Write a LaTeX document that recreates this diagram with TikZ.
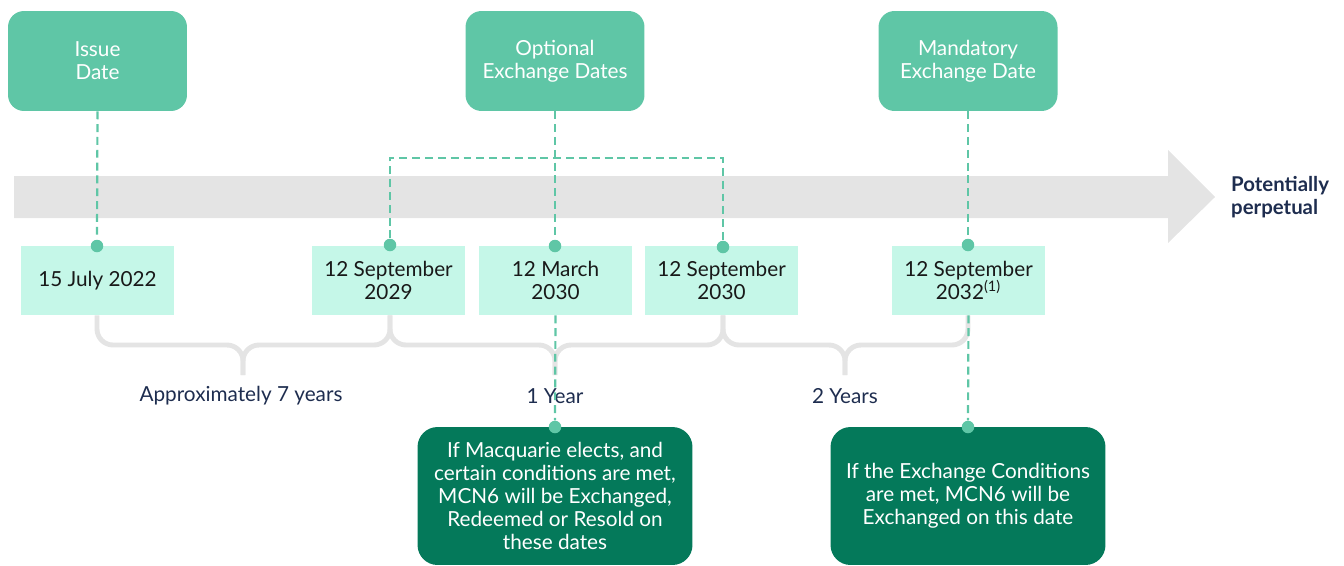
\documentclass[tikz,border=0pt]{standalone}
\usepackage{fontspec}
\setmainfont{Lato}
\usetikzlibrary{calc}
\definecolor{topgreen}{HTML}{5FC6A6}
\definecolor{datemint}{HTML}{C5F7E8}
\definecolor{darkgreen}{HTML}{04795A}
\definecolor{navy}{HTML}{1E2D4F}
\definecolor{bandgray}{HTML}{E4E4E4}
\tikzset{
	topbox/.style={fill=topgreen, text=white, rounded corners=0.32cm, minimum width=3.58cm, minimum height=2cm, align=center, inner sep=0pt},
	datebox/.style={fill=datemint, text=black!90, minimum width=3.06cm, minimum height=1.38cm, align=center, inner sep=0pt},
	notebox/.style={fill=darkgreen, text=white, rounded corners=0.4cm, minimum width=5.5cm, minimum height=2.76cm, align=center, inner sep=0pt},
	dot/.style={circle, fill=topgreen, minimum size=0.25cm, inner sep=0pt},
	dashline/.style={topgreen, line width=1.25pt, dash pattern=on 4.5pt off 2.8pt},
	bracebar/.style={bandgray, line width=2.8pt, rounded corners=0.32cm},
	spanlabel/.style={text=navy}
}
\begin{document}
\begin{tikzpicture}[x=0.02cm, y=-0.02cm, font=\fontsize{11.8}{13.1}\selectfont]
		\useasboundingbox (0,0) rectangle (1344,565);

		% DRAW THE GREY TIME ARROW
		\fill[bandgray] (14,176) -- (1168,176) -- (1168,150) -- (1215,197) -- (1168,243) -- (1168,218) -- (14,218) -- cycle;
		\node[anchor=west, align=left, text=navy, font=\fontsize{11.6}{12.8}\selectfont\bfseries] (perp) at (1225,197) {Potentially\\perpetual};

		% WRITE THE THREE HEADINGS
		\node[topbox] (issue) at (97.5,61) {Issue\\Date};
		\node[topbox] (optional) at (555,61) {Optional\\Exchange Dates};
		\node[topbox] (mandatory) at (968,61) {Mandatory\\Exchange Date};

		% PLACE THE DATES
		\node[datebox] (jul22) at (97.5,280.5) {15 July 2022};
		\node[datebox] (sep29) at (388.5,280.5) {12 September\\2029};
		\node[datebox] (mar30) at (555.5,280.5) {12 March\\2030};
		\node[datebox] (sep30) at (721.5,280.5) {12 September\\2030};
		\node[datebox] (sep32) at (968.5,280.5) {12 September\\2032\textsuperscript{(1)}};

		% PLACE DOTS
		\node[dot] (jul22dot) at (97,246) {};
		\node[dot] (sep29dot) at (390,245) {};
		\node[dot] (mar30dot) at (555,246) {};
		\node[dot] (sep30dot) at (723,247) {};
		\node[dot] (sep32dot) at (968,245) {};

		% DRAW THE BRACES UNDER THE DATES
		\coordinate (tip1) at (243,375);
		\coordinate (tip2) at (555,375);
		\coordinate (tip3) at (845,375);
		\draw[bracebar] (jul22dot |- jul22.south) |- ($(tip1)+(0,-30)$) -- (tip1);
		\draw[bracebar] (sep29dot |- sep29.south) |- ($(tip1)+(0,-30)$) -- (tip1);
		\draw[bracebar] (sep29dot |- sep29.south) |- ($(tip2)+(0,-30)$) -- (tip2);
		\draw[bracebar] (sep30dot |- sep30.south) |- ($(tip2)+(0,-30)$) -- (tip2);
		\draw[bracebar] (sep30dot |- sep30.south) |- ($(tip3)+(0,-30)$) -- (tip3);
		\draw[bracebar] (sep32dot |- sep32.south) |- ($(tip3)+(0,-30)$) -- (tip3);

		\node[spanlabel] (years7) at (241,396) {Approximately 7 years};
		\node[spanlabel] (year1) at (555,396) {1 Year};
		\node[spanlabel] (years2) at (845,396) {2 Years};

		% DRAW NOTES
		\node[notebox] (optnote) at (555,496) {If Macquarie elects, and\\certain conditions are met,\\MCN6 will be Exchanged,\\Redeemed or Resold on\\these dates};
		\node[notebox] (mandnote) at (968,496) {If the Exchange Conditions\\are met, MCN6 will be\\Exchanged on this date};
		\node[dot] (optdot) at (555,427) {};
		\node[dot] (manddot) at (968,427) {};

		% DASHED CONNECTIONS
		\coordinate (optbar) at (555,158);
		\draw[dashline] (issue.south) -- (jul22dot.north);
		\draw[dashline] (optional.south) -- (mar30dot.north);
		\draw[dashline] (sep29dot.north) |- (optbar) -| (sep30dot.north);
		\draw[dashline] (mandatory.south) -- (sep32dot.north);
		\draw[dashline] (mar30.south) -- (optdot.north);
		\draw[dashline] (sep32.south) -- (manddot.north);
	\end{tikzpicture}
\end{document}
